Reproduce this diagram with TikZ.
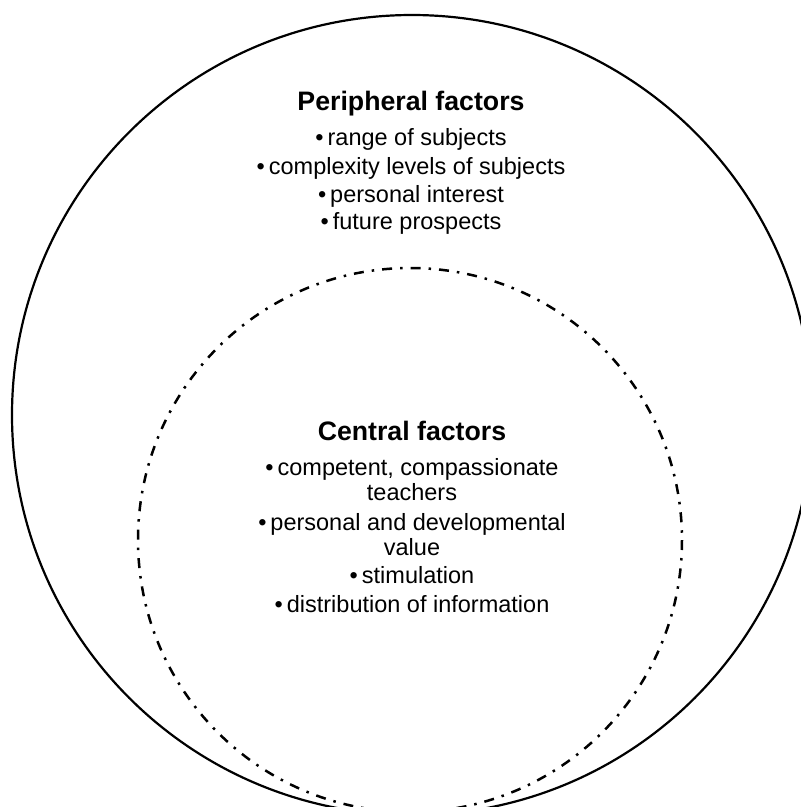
\documentclass[tikz,border=0pt]{standalone}
\usepackage{fontspec}
\setmainfont{Liberation Sans}
\newcommand{\bul}{\textbullet\hspace{4pt}}
\begin{document}
\begin{tikzpicture}[x=1pt,y=-1pt,
  outerring/.style={line width=2.2pt, draw=black},
  innerring/.style={line width=2.5pt, draw=black, dash pattern=on 10pt off 8pt on 2.5pt off 8pt},
  heading/.style={font=\bfseries\fontsize{26.7}{30}\selectfont, anchor=base, inner sep=0pt},
  item/.style={font=\fontsize{23.5}{28}\selectfont, anchor=base, inner sep=0pt}]
\useasboundingbox (0,0) rectangle (801,807);
% the two rings, cut off by the page edge
\begin{scope}
  \clip (0,0) rectangle (801,807);
  \draw[outerring] (412,415) circle[radius=400];
  \draw[innerring] (410,540) circle[radius=272];
\end{scope}
% peripheral factors
\node[heading] (ptitle) at (411,110) {Peripheral factors};
\node[item] (p1) at (411,145) {\bul range of subjects};
\node[item] (p2) at (411,174) {\bul complexity levels of subjects};
\node[item] (p3) at (411,202) {\bul personal interest};
\node[item] (p4) at (411,229) {\bul future prospects};
% central factors
\node[heading] (ctitle) at (412,440) {Central factors};
\node[item] (c1) at (412,475) {\bul competent, compassionate};
\node[item] (c1b) at (412,500) {teachers};
\node[item] (c2) at (412,530) {\bul personal and developmental};
\node[item] (c2b) at (412,555) {value};
\node[item] (c3) at (412,583) {\bul stimulation};
\node[item] (c4) at (412,612) {\bul distribution of information};
\end{tikzpicture}
\end{document}
